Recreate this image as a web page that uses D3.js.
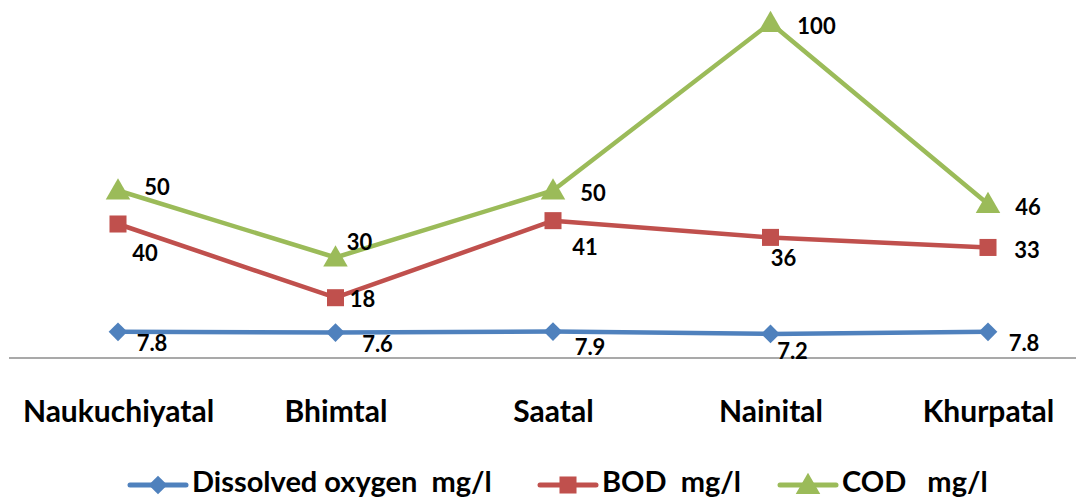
<!DOCTYPE html>
<html><head><meta charset="utf-8">
<script src="https://cdn.jsdelivr.net/npm/d3@7"></script>
<style>body{margin:0;background:#fff}svg{display:block}text{font-family:Lato,"Open Sans",sans-serif;font-weight:bold;fill:#000;white-space:pre}</style>
</head><body><svg id="c" width="1086" height="499"></svg>
<script>
const categories = ["Naukuchiyatal","Bhimtal","Saatal","Nainital","Khurpatal"];
const dissolvedOxygen = [7.8,7.6,7.9,7.2,7.8];
const bod = [40,18,41,36,33];
const cod = [50,30,50,100,46];
const seriesNames = ["Dissolved oxygen  mg/l","BOD  mg/l","COD   mg/l"];

const series = [
  {name:seriesNames[0], values:dissolvedOxygen, color:"#4F81BD", sym:d3.symbolSquare, rot:45, size:175, lab:[[34,11],[42,11],[37,15],[22,17],[36,11]]},
  {name:seriesNames[1], values:bod, color:"#C0504D", sym:d3.symbolSquare, rot:0, size:290, lab:[[27,28],[27,1],[32,26],[13,20],[39,2]]},
  {name:seriesNames[2], values:cod, color:"#9BBB59", sym:d3.symbolTriangle, rot:0, size:260, lab:[[39,-4],[24,-16],[40,2],[46,2],[40,3]]}
];
const svg = d3.select("#c");
const x = d3.scalePoint().domain(categories).range([118,988]);
const y = d3.scaleLinear().domain([0,100]).range([358,23]);

svg.append("line").attr("x1",9).attr("x2",1076).attr("y1",y(0)).attr("y2",y(0)).attr("stroke","#8c8c8c").attr("stroke-width",1.5);

const xAxis = svg.append("g").attr("transform",`translate(0,${y(0)})`).call(d3.axisBottom(x).tickSize(0).tickPadding(0));
xAxis.select(".domain").remove();
xAxis.selectAll("text").attr("dy",null).attr("y",64).attr("font-size",30).attr("font-family","Lato").attr("font-weight","bold").attr("fill","#000");

const line = d3.line().x((d,i)=>x(categories[i])).y(d=>y(d));
series.forEach(s=>{
  const g = svg.append("g");
  g.append("path").attr("d",line(s.values)).attr("fill","none").attr("stroke",s.color).attr("stroke-width",4.5).attr("stroke-linejoin","round");
  g.selectAll("path.m").data(s.values).join("path").attr("class","m")
    .attr("d",d3.symbol().type(s.sym).size(s.size))
    .attr("transform",(d,i)=>`translate(${x(categories[i])},${y(d) + (s.sym===d3.symbolTriangle?2:0)}) rotate(${s.rot})`)
    .attr("fill",s.color);
  g.selectAll("text").data(s.values).join("text")
    .attr("x",(d,i)=>x(categories[i])+s.lab[i][0])
    .attr("y",(d,i)=>y(d)+s.lab[i][1])
    .attr("text-anchor","middle").attr("dominant-baseline","central")
    .attr("font-size",22).text(d=>d);
});

// legend
const legX = [130,540,780];
const leg = svg.append("g");
series.forEach((s,i)=>{
  const g = leg.append("g").attr("transform",`translate(${legX[i]},485)`);
  g.append("line").attr("x1",0).attr("x2",56).attr("stroke",s.color).attr("stroke-width",5).attr("stroke-linecap","round");
  g.append("path").attr("d",d3.symbol().type(s.sym).size(s.size)).attr("transform",`translate(28,${s.sym===d3.symbolTriangle?2:0}) rotate(${s.rot})`).attr("fill",s.color);
  g.append("text").attr("x",62).attr("y",7).attr("font-size",29).text(s.name);
});
</script></body></html>
